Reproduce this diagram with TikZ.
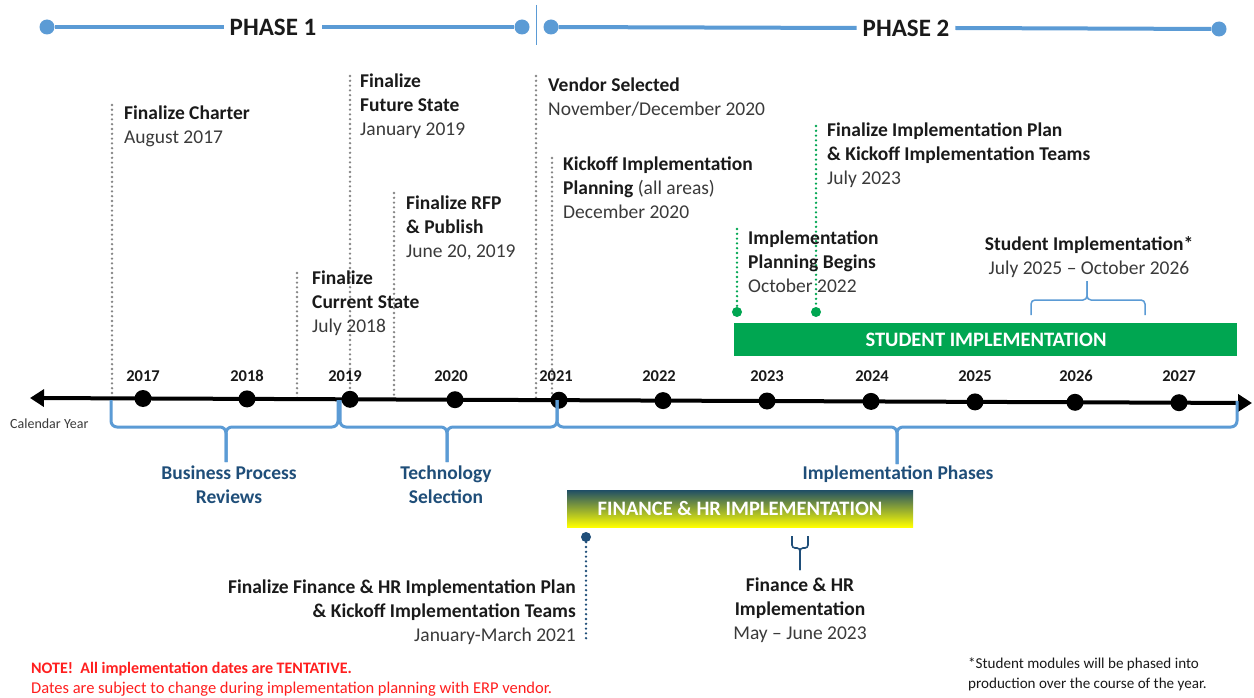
\documentclass[tikz,border=0pt]{standalone}
\usepackage{fontspec}
\setmainfont{Carlito}
\usetikzlibrary{arrows.meta}
\definecolor{pblue}{HTML}{5B9BD5}
\definecolor{dblue}{HTML}{1F4E79}
\definecolor{sgreen}{HTML}{00A651}
\definecolor{dgray}{HTML}{858585}
\definecolor{txt}{HTML}{1A1A1A}
\definecolor{dtxt}{HTML}{3A3A3A}
\definecolor{fintop}{HTML}{1F4E66}
\definecolor{finmid}{HTML}{7FA832}
\definecolor{finbot}{HTML}{FFFF00}
\definecolor{notered}{HTML}{FF1F1F}
\begin{document}
\begin{tikzpicture}[x=1pt,y=-1pt,
  phline/.style={pblue, line width=4pt},
  pdot/.style={circle, fill=pblue, inner sep=0pt, minimum size=15pt},
  phase/.style={font=\fontsize{25}{30}\selectfont\bfseries, text=txt, inner xsep=6pt, inner ysep=0pt},
  ydot/.style={circle, fill=black, inner sep=0pt, minimum size=17pt},
  ylab/.style={font=\fontsize{16.5}{20}\selectfont\bfseries, text=txt, anchor=base, inner sep=0pt},
  lbl/.style={font=\fontsize{19.5}{24}\selectfont, text=txt, align=left, inner sep=0pt, anchor=north west},
  clbl/.style={lbl, align=center, anchor=north},
  rlbl/.style={lbl, align=right, anchor=north east},
  blbl/.style={font=\fontsize{19.5}{24}\selectfont\bfseries, text=dblue, align=center, inner sep=0pt, anchor=north},
  gline/.style={dgray, line width=2.6pt, dash pattern=on 0pt off 4.8pt, line cap=round},
  grline/.style={gline, draw=sgreen},
  fline/.style={gline, draw=dblue},
  brc/.style={pblue, line width=3pt, rounded corners=6pt},
  sbrc/.style={pblue, line width=1.5pt, rounded corners=4pt},
  fbrc/.style={dblue, line width=1.6pt, rounded corners=3pt},
  sdot/.style={circle, fill=sgreen, inner sep=0pt, minimum size=10pt},
  fdot/.style={circle, fill=dblue, inner sep=0pt, minimum size=10pt},
  bartxt/.style={font=\fontsize{20.5}{24}\selectfont\bfseries, text=white, inner sep=0pt},
  note/.style={align=left, inner sep=0pt, anchor=north west}
]
\useasboundingbox[fill=white] (0,0) rectangle (1254,698);

% ---------- phase bar ----------
\node[pdot] (p1l) at (47,27) {};
\node[pdot] (p1r) at (522,27) {};
\node[phase] (ph1) at (273,27) {PHASE 1};
\draw[phline] (p1l) -- (ph1.west);
\draw[phline] (ph1.east) -- (p1r);
\coordinate (sepT) at (536,5);
\coordinate (sepB) at (536,45);
\draw[pblue, line width=1pt] (sepT) -- (sepB);
\node[pdot] (p2l) at (551,27) {};
\node[pdot] (p2r) at (1219,29) {};
\node[phase] (ph2) at (906,28) {PHASE 2};
\draw[phline] (p2l) -- (ph2.west);
\draw[phline] (ph2.east) -- (p2r);

% ---------- dotted milestone lines ----------
\coordinate (m1t) at (112,105);  \coordinate (m1b) at (112,398);
\coordinate (m2t) at (297,273);  \coordinate (m2b) at (297,398);
\coordinate (m3t) at (350,76);   \coordinate (m3b) at (350,398);
\coordinate (m4t) at (394,193);  \coordinate (m4b) at (394,398);
\coordinate (m5t) at (536,76);   \coordinate (m5b) at (536,398);
\coordinate (m6t) at (552,158);  \coordinate (m6b) at (552,398);
\draw[gline] (m1t) -- (m1b);
\draw[gline] (m2t) -- (m2b);
\draw[gline] (m3t) -- (m3b);
\draw[gline] (m4t) -- (m4b);
\draw[gline] (m5t) -- (m5b);
\draw[gline] (m6t) -- (m6b);

\coordinate (g1t) at (737,229);
\coordinate (g2t) at (816,126);
\node[sdot] (g1d) at (737,312) {};
\node[sdot] (g2d) at (816,312) {};
\draw[grline] (g1t) -- (g1d);
\draw[grline] (g2t) -- (g2d);

% ---------- milestone labels ----------
\node[lbl] (charter) at (124,102.2) {\strut\textbf{Finalize Charter}\\\textcolor{dtxt}{August 2017}};
\node[lbl] (current) at (312,267.2) {\strut\textbf{Finalize}\\\textbf{Current State}\\\textcolor{dtxt}{July 2018}};
\node[lbl] (future) at (360,70.2) {\strut\textbf{Finalize}\\\textbf{Future State}\\\textcolor{dtxt}{January 2019}};
\node[lbl] (rfp) at (406,192.2) {\strut\textbf{Finalize RFP}\\\textbf{\& Publish}\\\textcolor{dtxt}{June 20, 2019}};
\node[lbl] (vendor) at (548,74.2) {\strut\textbf{Vendor Selected}\\\textcolor{dtxt}{November/December 2020}};
\node[lbl] (kickoff) at (563,153.2) {\strut\textbf{Kickoff Implementation}\\\textbf{Planning} \textcolor{dtxt}{(all areas)}\\\textcolor{dtxt}{December 2020}};
\node[lbl] (implplan) at (748,227.2) {\strut\textbf{Implementation}\\\textbf{Planning Begins}\\\textcolor{dtxt}{October 2022}};
\node[lbl] (finplan) at (827,119.2) {\strut\textbf{Finalize Implementation Plan}\\\textbf{\& Kickoff Implementation Teams}\\\textcolor{dtxt}{July 2023}};
\node[clbl] (studlbl) at (1089,233.2) {\strut\textbf{Student Implementation*}\\\textcolor{dtxt}{July 2025 – October 2026}};

% ---------- student bar & brace ----------
\node[fill=sgreen, minimum width=503pt, minimum height=33pt, inner sep=0pt] (studbar) at (985.5,339.5) {};
\node[bartxt] (studtxt) at (986,340) {STUDENT IMPLEMENTATION};
\coordinate (sbl) at (1031,315);
\coordinate (sbr) at (1145,315);
\coordinate (sbm) at (1087,300);
\coordinate (sbtip) at (1087,281);
\draw[sbrc] (sbl) |- (sbm) -- (sbtip);
\draw[sbrc] (sbr) |- (sbm) -- (sbtip);

% ---------- main axis ----------
\coordinate (axL) at (30,398);
\coordinate (axR) at (1252,403);
\draw[black, line width=4pt, {Triangle[length=14pt,width=17pt]}-{Triangle[length=14pt,width=17pt]}] (axL) -- (axR);
\foreach \yr/\dx/\dy/\lx in {2017/143/398.5/143, 2018/247/398.9/247, 2019/350/399.3/345, 2020/455/399.7/451, 2021/559/400.2/556, 2022/663/400.6/659, 2023/767/401.0/767, 2024/871/401.4/872, 2025/975/401.9/975, 2026/1075/402.3/1076, 2027/1179/402.7/1179}{
  \node[ydot] (d\yr) at (\dx,\dy) {};
  \node[ylab] (l\yr) at (\lx,381) {\yr};
}
\node[font=\fontsize{14}{17}\selectfont, text=dtxt, anchor=base west, inner sep=0pt] (calyr) at (10,428) {Calendar Year};

% ---------- braces under axis ----------
\coordinate (b1l) at (111,400); \coordinate (b1m) at (226,427); \coordinate (b1t) at (226,462); \coordinate (b1r) at (338,400);
\draw[brc] (b1l) |- (b1m) -- (b1t);
\draw[brc] (b1r) |- (b1m) -- (b1t);
\coordinate (b2l) at (340,400); \coordinate (b2m) at (447,427); \coordinate (b2t) at (447,462); \coordinate (b2r) at (557,400);
\draw[brc] (b2l) |- (b2m) -- (b2t);
\draw[brc] (b2r) |- (b2m) -- (b2t);
\coordinate (b3l) at (557,400); \coordinate (b3m) at (897,427); \coordinate (b3t) at (897,464); \coordinate (b3r) at (1237,401);
\draw[brc] (b3l) |- (b3m) -- (b3t);
\draw[brc] (b3r) |- (b3m) -- (b3t);
\node[blbl] (bpr) at (229,462.2) {\strut Business Process\\Reviews};
\node[blbl] (tsel) at (446,462.2) {\strut Technology\\Selection};
\node[blbl] (iph) at (898,462.2) {\strut Implementation Phases};

% ---------- finance & HR ----------
\node[top color=fintop, middle color=finmid, bottom color=finbot, minimum width=346pt, minimum height=37pt, inner sep=0pt] (finbar) at (740,508.5) {};
\node[bartxt] (fintxt) at (740,508) {FINANCE \& HR IMPLEMENTATION};
\node[fdot] (fd) at (586,537) {};
\coordinate (fdb) at (586,641);
\draw[fline] (fd) -- (fdb);
\node[rlbl] (finkick) at (576,576.2) {\strut\textbf{Finalize Finance \& HR Implementation Plan}\\\textbf{\& Kickoff Implementation Teams}\\\textcolor{dtxt}{January-March 2021}};
\coordinate (fbl) at (792,536); \coordinate (fbr) at (808,536); \coordinate (fbm) at (800,548); \coordinate (fbt) at (800,570);
\draw[fbrc] (fbl) |- (fbm) -- (fbt);
\draw[fbrc] (fbr) |- (fbm) -- (fbt);
\node[clbl] (finimpl) at (800,574.2) {\strut\textbf{Finance \& HR}\\\textbf{Implementation}\\\textcolor{dtxt}{May – June 2023}};

% ---------- notes ----------
\node[note, text=notered, font=\fontsize{16}{20}\selectfont] (redn) at (31,659) {\strut\textbf{NOTE!\ \ All implementation dates are TENTATIVE.}\\\fontsize{16.5}{20}\selectfont Dates are subject to change during implementation planning with ERP vendor.};
\node[note, text=txt, font=\fontsize{15.1}{20}\selectfont] (stn) at (968,654) {\strut*Student modules will be phased into\\production over the course of the year.};
\end{tikzpicture}
\end{document}
